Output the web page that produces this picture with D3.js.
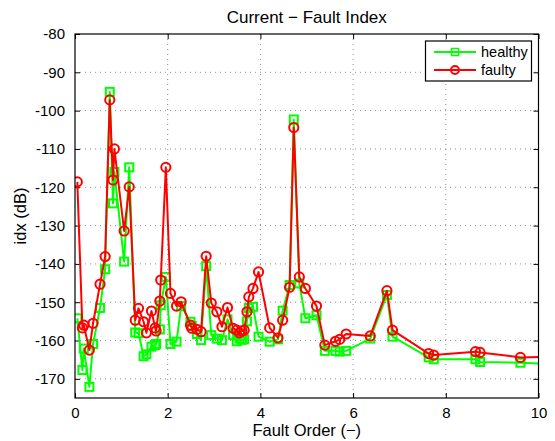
<!DOCTYPE html>
<html>
<head>
<meta charset="utf-8">
<script src="https://cdn.jsdelivr.net/npm/d3@7/dist/d3.min.js"></script>
<style>
  html, body { margin: 0; padding: 0; background: #fff; }
  svg { display: block; font-family: "Liberation Sans", Arial, Helvetica, sans-serif; }
</style>
</head>
<body>
<div id="chart"></div>
<script>
// Fault order positions shared by both series
const faultOrder = [0.05, 0.16, 0.19, 0.31, 0.39, 0.54, 0.65, 0.75, 0.82, 0.85,
  1.06, 1.17, 1.30, 1.37, 1.48, 1.54, 1.65, 1.73, 1.75, 1.83,
  1.85, 1.96, 2.06, 2.19, 2.29, 2.49, 2.52, 2.63, 2.72, 2.83,
  2.94, 3.06, 3.17, 3.29, 3.41, 3.49, 3.55, 3.60, 3.65, 3.71,
  3.75, 3.84, 3.96, 4.20, 4.38, 4.48, 4.63, 4.72, 4.84, 4.97,
  5.21, 5.39, 5.62, 5.71, 5.85, 6.37, 6.73, 6.85, 7.63, 7.74,
  8.64, 8.74, 9.61, 10.6];

// Fault index (dB), healthy machine
const healthy = [-154.2, -167.7, -162.1, -172.1, -160.9, -151.5, -141.4, -95.1, -124.2, -116.0,
  -139.4, -114.8, -157.9, -158.1, -164.1, -163.6, -161.6, -161.2, -160.9, -157.1,
  -150.8, -143.4, -160.9, -160.3, -151.0, -155.1, -156.2, -158.3, -159.9, -140.6,
  -158.6, -159.5, -159.9, -154.5, -158.6, -160.2, -159.5, -159.8, -159.7, -155.0,
  -151.5, -151.2, -159.0, -160.3, -159.7, -152.2, -145.5, -102.3, -145.1, -154.2,
  -153.4, -162.7, -162.7, -162.9, -162.7, -159.5, -148.1, -159.0, -164.4, -164.9,
  -164.9, -165.6, -165.8, -166.3];

// Fault index (dB), faulty machine
const faulty = [-118.6, -156.7, -156.0, -162.5, -155.5, -145.3, -138.1, -97.2, -118.1, -110.0,
  -131.4, -119.9, -154.7, -151.6, -155.1, -158.0, -152.3, -156.7, -157.5, -149.7,
  -144.2, -114.8, -147.7, -151.0, -149.9, -156.0, -156.8, -157.1, -157.7, -138.0,
  -150.2, -152.5, -156.4, -151.4, -156.8, -157.3, -158.0, -157.5, -157.3, -152.5,
  -148.6, -146.4, -142.1, -156.7, -159.3, -154.7, -146.1, -104.4, -143.4, -146.4,
  -151.0, -161.2, -160.2, -159.7, -158.3, -158.8, -147.0, -157.3, -163.4, -163.8,
  -162.9, -163.1, -164.4, -164.2];

const xTicks = [0, 2, 4, 6, 8, 10];
const yTicks = [-80, -90, -100, -110, -120, -130, -140, -150, -160, -170];
const seriesNames = ["healthy", "faulty"];

const W = 555, H = 441;
const plot = { left: 75, right: 538.5, top: 34, bottom: 398 };

const svg = d3.select("#chart").append("svg").attr("width", W).attr("height", H);

const x = d3.scaleLinear().domain([0, 10]).range([plot.left, plot.right]);
const y = d3.scaleLinear().domain([-175, -80]).range([plot.bottom, plot.top]);

svg.append("defs").append("clipPath").attr("id", "plotClip")
  .append("rect")
  .attr("x", plot.left).attr("y", plot.top)
  .attr("width", plot.right - plot.left).attr("height", plot.bottom - plot.top);

// Dotted grid
const grid = svg.append("g").attr("stroke", "#000").attr("stroke-width", 0.6)
  .attr("stroke-dasharray", "1,4").attr("opacity", 0.75);
xTicks.forEach(t => {
  if (t === 0 || t === 10) return;
  grid.append("line").attr("x1", x(t)).attr("x2", x(t)).attr("y1", plot.top).attr("y2", plot.bottom);
});
yTicks.forEach(t => {
  if (t === -80) return;
  grid.append("line").attr("x1", plot.left).attr("x2", plot.right).attr("y1", y(t)).attr("y2", y(t));
});

// Axes with inward ticks
const tickLen = 5;
const fmt = d => String(d);
const xAxisB = d3.axisBottom(x).tickValues(xTicks).tickFormat(fmt).tickSizeInner(-tickLen).tickSizeOuter(0).tickPadding(tickLen + 4);
const xAxisT = d3.axisTop(x).tickValues(xTicks).tickSizeInner(-tickLen).tickSizeOuter(0).tickFormat("");
const yAxisL = d3.axisLeft(y).tickValues(yTicks).tickFormat(fmt).tickSizeInner(-tickLen).tickSizeOuter(0).tickPadding(tickLen + 5);
const yAxisR = d3.axisRight(y).tickValues(yTicks).tickSizeInner(-tickLen).tickSizeOuter(0).tickFormat("");

function styleAxis(g) {
  g.select(".domain").remove();
  g.selectAll(".tick line").attr("stroke", "#000").attr("stroke-width", 1);
  g.selectAll(".tick text").attr("fill", "#000").attr("font-size", 15)
    .attr("font-family", "Liberation Sans, Arial, sans-serif");
}
svg.append("g").attr("transform", `translate(0,${plot.bottom})`).call(xAxisB).call(styleAxis);
svg.append("g").attr("transform", `translate(0,${plot.top})`).call(xAxisT).call(styleAxis);
svg.append("g").attr("transform", `translate(${plot.left},0)`).call(yAxisL).call(styleAxis);
svg.append("g").attr("transform", `translate(${plot.right},0)`).call(yAxisR).call(styleAxis);

// Data series
const line = d3.line().x(d => x(d[0])).y(d => y(d[1]));
const healthyPts = faultOrder.map((f, i) => [f, healthy[i]]);
const faultyPts = faultOrder.map((f, i) => [f, faulty[i]]);

const data = svg.append("g").attr("clip-path", "url(#plotClip)");

function squareMarkers(g, pts, color) {
  const s = 8;
  g.selectAll(null).data(pts).enter().append("rect")
    .attr("x", d => x(d[0]) - s / 2).attr("y", d => y(d[1]) - s / 2)
    .attr("width", s).attr("height", s)
    .attr("fill", "none").attr("stroke", color).attr("stroke-width", 2);
}
function circleMarkers(g, pts, color) {
  g.selectAll(null).data(pts).enter().append("circle")
    .attr("cx", d => x(d[0])).attr("cy", d => y(d[1])).attr("r", 4.6)
    .attr("fill", "none").attr("stroke", color).attr("stroke-width", 2);
}

const gH = data.append("g");
gH.append("path").datum(healthyPts).attr("d", line)
  .attr("fill", "none").attr("stroke", "#00ff00").attr("stroke-width", 2).attr("stroke-linejoin", "round");
squareMarkers(gH, healthyPts, "#00ff00");

const gF = data.append("g");
gF.append("path").datum(faultyPts).attr("d", line)
  .attr("fill", "none").attr("stroke", "#ff0000").attr("stroke-width", 2).attr("stroke-linejoin", "round");
circleMarkers(gF, faultyPts, "#ff0000");

// Axes box
svg.append("rect").attr("x", plot.left).attr("y", plot.top)
  .attr("width", plot.right - plot.left).attr("height", plot.bottom - plot.top)
  .attr("fill", "none").attr("stroke", "#000").attr("stroke-width", 1.2);

// Title and labels
svg.append("text").attr("x", (plot.left + plot.right) / 2).attr("y", 23)
  .attr("text-anchor", "middle").attr("font-size", 17).text("Current \u2212 Fault Index");
svg.append("text").attr("x", (plot.left + plot.right) / 2).attr("y", 436)
  .attr("text-anchor", "middle").attr("font-size", 16.5).text("Fault Order (\u2212)");
svg.append("text").attr("transform", `translate(26,${(plot.top + plot.bottom) / 2}) rotate(-90)`)
  .attr("text-anchor", "middle").attr("font-size", 16.5).text("idx (dB)");

// Legend
const lg = svg.append("g");
lg.append("rect").attr("x", 425.5).attr("y", 41).attr("width", 106).attr("height", 40)
  .attr("fill", "#fff").attr("stroke", "#000").attr("stroke-width", 1.2);
const legendRows = [
  { name: seriesNames[0], color: "#00ff00", marker: "square", y: 52 },
  { name: seriesNames[1], color: "#ff0000", marker: "circle", y: 70 }
];
legendRows.forEach(r => {
  lg.append("line").attr("x1", 434).attr("x2", 476).attr("y1", r.y).attr("y2", r.y)
    .attr("stroke", r.color).attr("stroke-width", 2);
  if (r.marker === "square") {
    lg.append("rect").attr("x", 455 - 3.5).attr("y", r.y - 3.5).attr("width", 7).attr("height", 7)
      .attr("fill", "none").attr("stroke", r.color).attr("stroke-width", 1.5);
  } else {
    lg.append("circle").attr("cx", 455).attr("cy", r.y).attr("r", 4)
      .attr("fill", "none").attr("stroke", r.color).attr("stroke-width", 2);
  }
  lg.append("text").attr("x", 481).attr("y", r.y + 5).attr("font-size", 14.5).text(r.name);
});
</script>
</body>
</html>
